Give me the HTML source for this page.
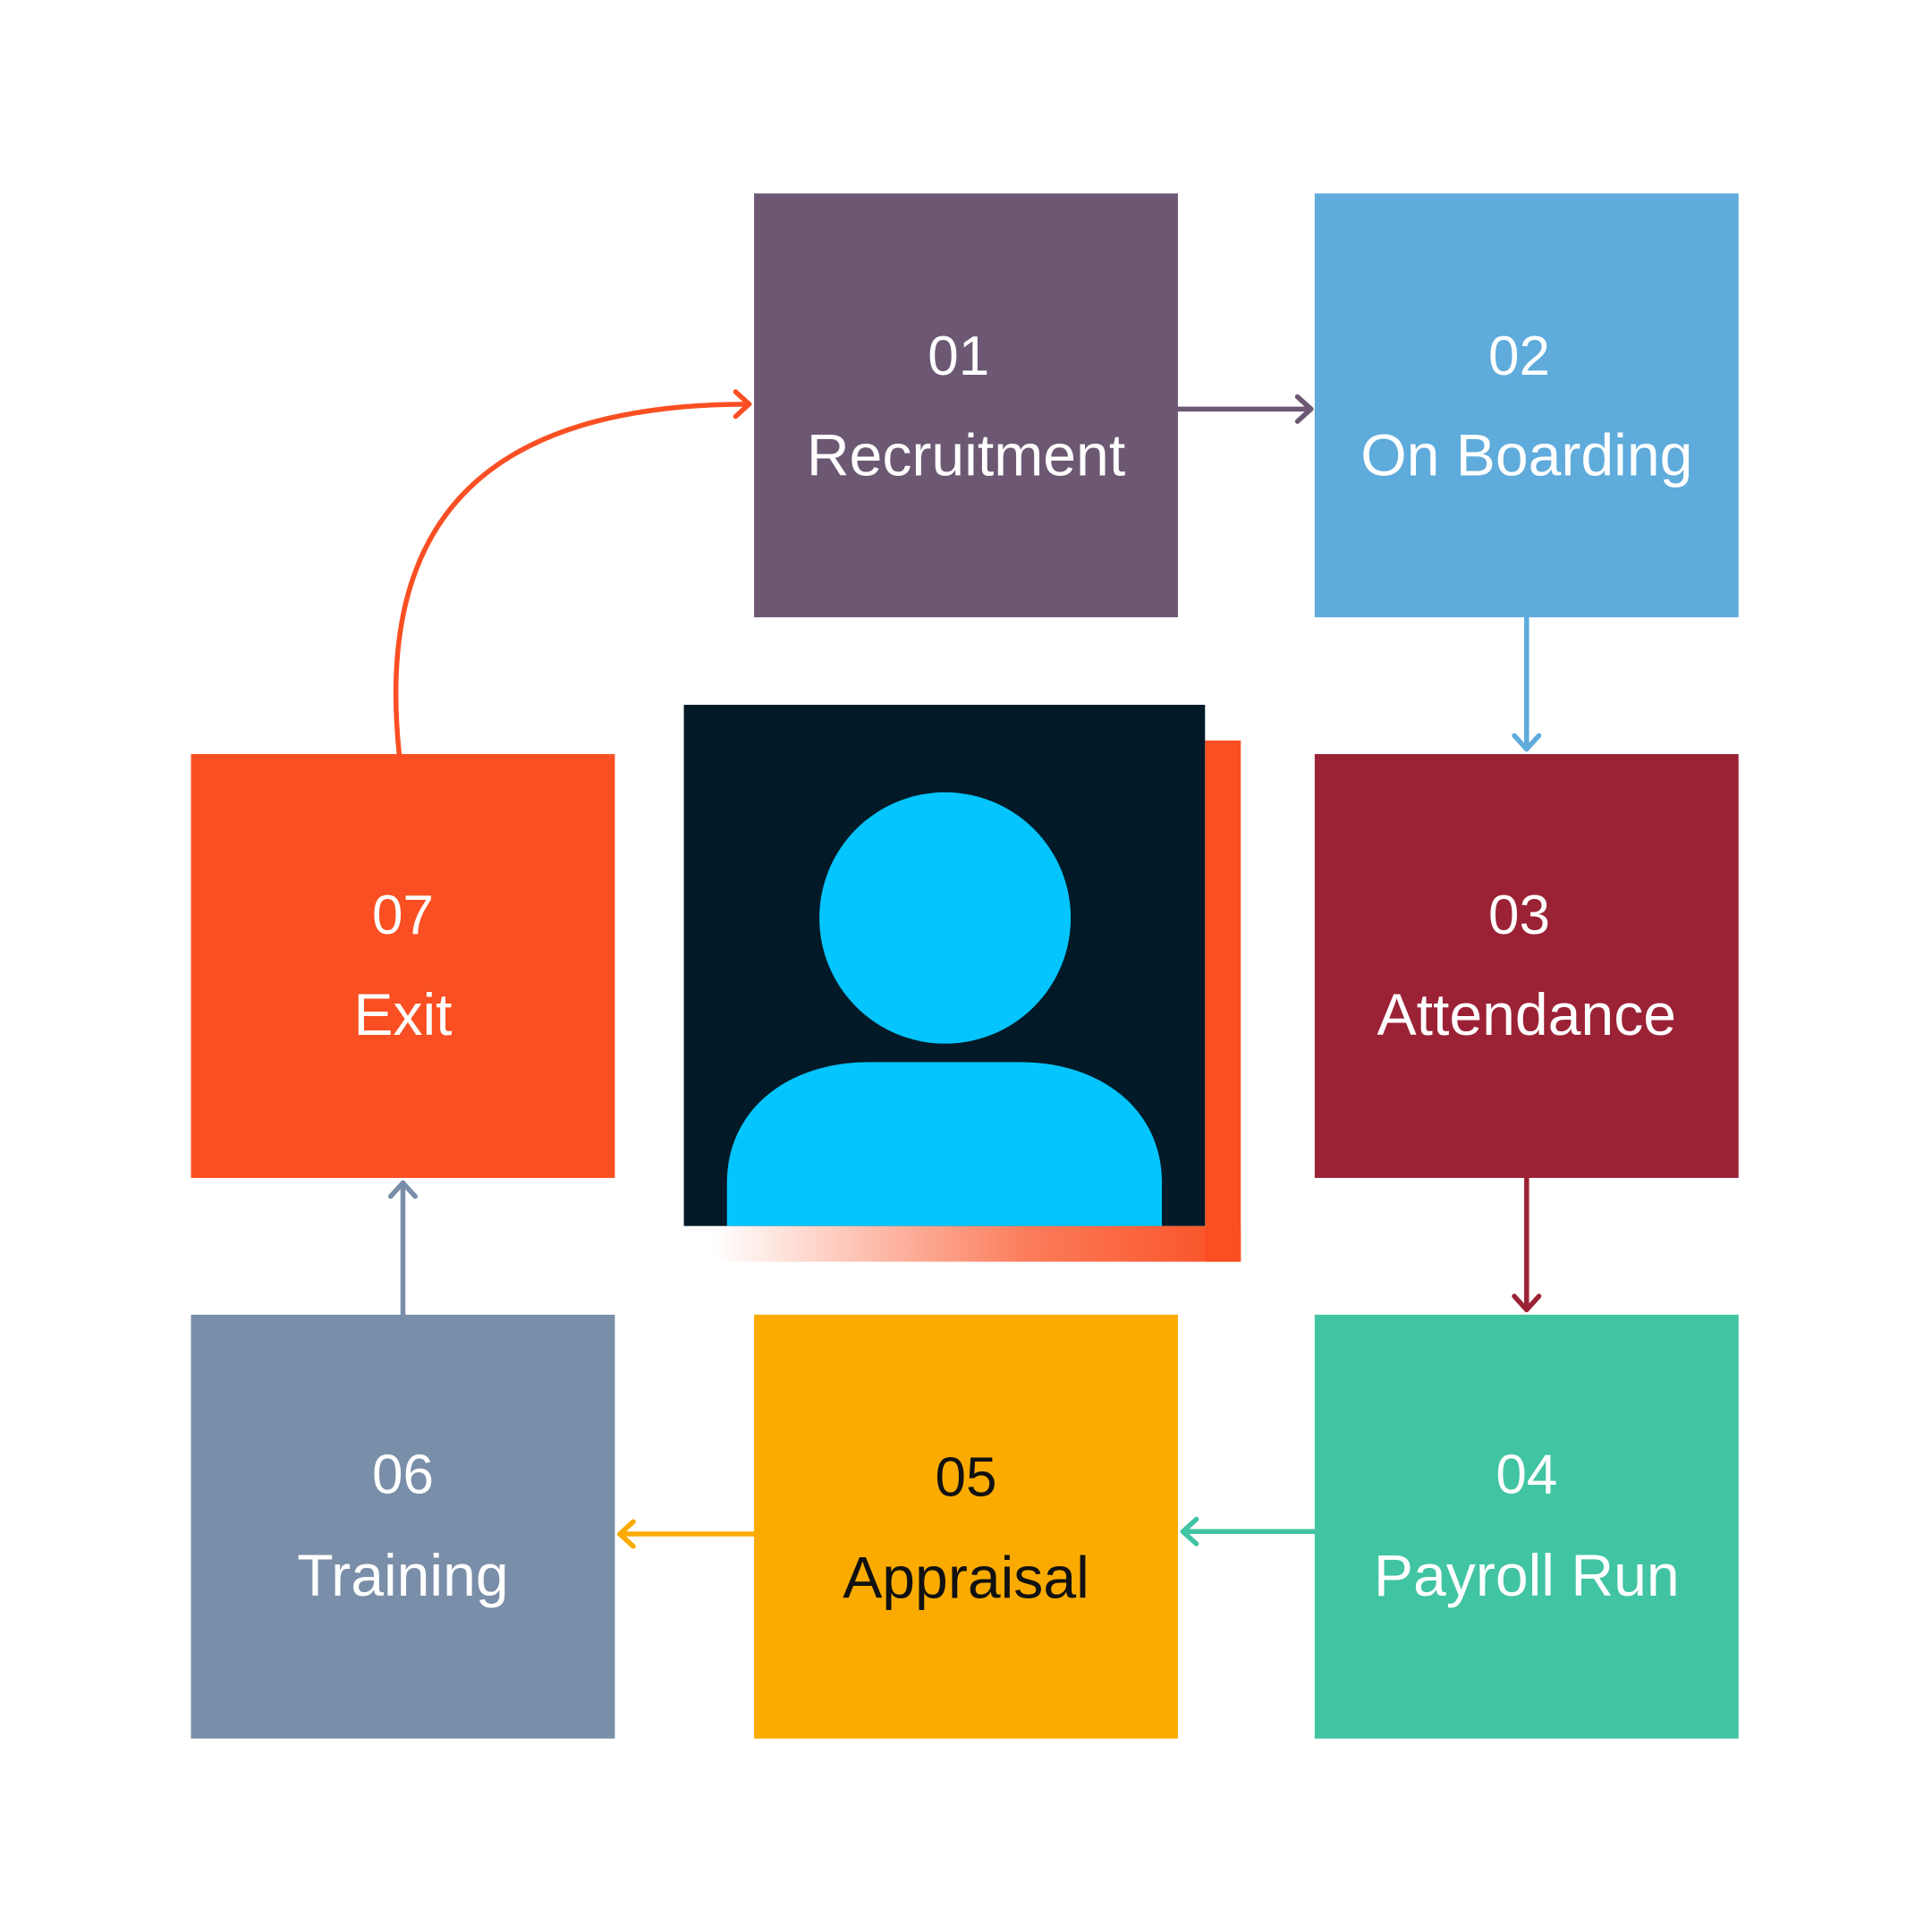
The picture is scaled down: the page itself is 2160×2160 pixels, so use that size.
<!DOCTYPE html>
<html><head><style>
html,body{margin:0;padding:0;background:#fff;}
svg{display:block;}
text{font-family:"Liberation Sans",sans-serif;text-anchor:middle;}
</style></head><body>
<svg width="2160" height="2160" viewBox="0 0 1568 1568" xmlns="http://www.w3.org/2000/svg">
<defs>
<linearGradient id="g" x1="0" x2="1" y1="0" y2="0">
<stop offset="0" stop-color="#fa4f22" stop-opacity="0"/>
<stop offset="0.6" stop-color="#fa4f22" stop-opacity="0.75"/>
<stop offset="1" stop-color="#fa4f22"/>
</linearGradient>
</defs>
<rect width="1568" height="1568" fill="#fff"/>
<rect x="612" y="157" width="344" height="344" fill="#6c5873"/>
<rect x="1067" y="157" width="344" height="344" fill="#5eabdc"/>
<rect x="1067" y="612" width="344" height="344" fill="#9b2235"/>
<rect x="1067" y="1067" width="344" height="344" fill="#41c4a2"/>
<rect x="612" y="1067" width="344" height="344" fill="#fbab00"/>
<rect x="155" y="1067" width="344" height="344" fill="#798ea8"/>
<rect x="155" y="612" width="344" height="344" fill="#fa4f22"/>
<rect x="978" y="601" width="29" height="423" fill="#fa4f22"/>
<rect x="580" y="995" width="427" height="29" fill="url(#g)"/>
<rect x="555" y="572" width="423" height="423" fill="#021a28"/>
<circle cx="767" cy="745" r="102" fill="#04c5fd"/>
<path d="M590,995 L590,960 C590,900 640,862 705,862 L828,862 C893,862 943,900 943,960 L943,995 Z" fill="#04c5fd"/>
<g font-size="45" fill="#fff">
<text x="778" y="304">01</text><text x="784" y="386" font-size="48">Recruitment</text>
<text x="1233" y="304">02</text><text x="1239" y="386" font-size="48">On Boarding</text>
<text x="1233" y="758">03</text><text x="1239" y="840" font-size="48">Attendance</text>
<text x="1239" y="1212">04</text><text x="1239" y="1295" font-size="48">Payroll Run</text>
<text x="784" y="1214" fill="#111">05</text><text x="784" y="1297" font-size="48" fill="#111">Appraisal</text>
<text x="327" y="1212">06</text><text x="327" y="1295" font-size="48">Training</text>
<text x="327" y="758">07</text><text x="327" y="840" font-size="48">Exit</text>
</g>
<g fill="none" stroke-width="4" stroke-linecap="round" stroke-linejoin="round">
<g stroke="#6c5873"><line x1="956" y1="332" x2="1064" y2="332"/><polyline points="1053,322 1064,332 1053,342"/></g>
<g stroke="#5eabdc"><line x1="1239" y1="501" x2="1239" y2="608"/><polyline points="1229,597 1239,608 1249,597"/></g>
<g stroke="#9b2235"><line x1="1239" y1="956" x2="1239" y2="1063"/><polyline points="1229,1052 1239,1063 1249,1052"/></g>
<g stroke="#41c4a2"><line x1="1067" y1="1243" x2="960" y2="1243"/><polyline points="971,1233 960,1243 971,1253"/></g>
<g stroke="#fbab00"><line x1="612" y1="1245" x2="503" y2="1245"/><polyline points="514,1235 503,1245 514,1255"/></g>
<g stroke="#798ea8"><line x1="327" y1="1067" x2="327" y2="960"/><polyline points="317,971 327,960 337,971"/></g>
<g stroke="#fa4f22"><path d="M324,612 C305,430 385,328 608,328"/><polyline points="597,318 608,328 597,338"/></g>
</g>
</svg>
</body></html>
